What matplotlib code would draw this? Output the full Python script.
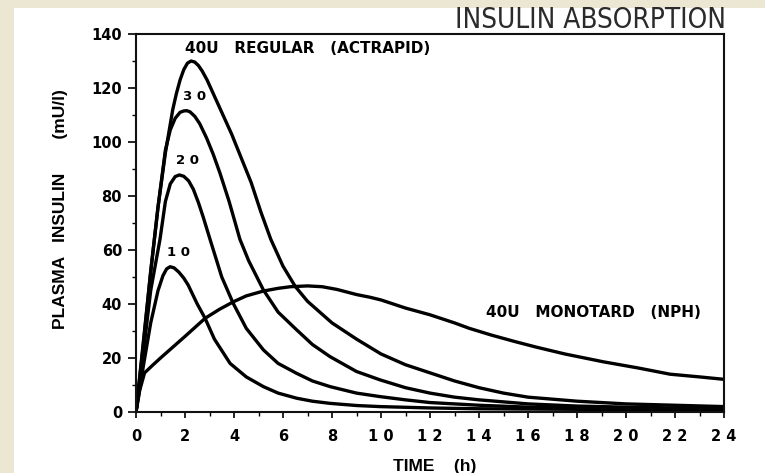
import matplotlib
matplotlib.use("Agg")
import matplotlib.pyplot as plt
from matplotlib.patches import Rectangle
from matplotlib.ticker import MultipleLocator

# 40U regular (actrapid)
t_40 = [0, 0.3, 0.6, 0.9, 1.2, 1.5, 1.65, 1.8, 1.95, 2.1, 2.25, 2.4, 2.55, 2.7, 2.9, 3.1,
        3.5, 3.9, 4.3, 4.7, 5.1, 5.5, 6.0, 6.5, 7.0, 7.5, 8.0, 9.0, 10, 11, 12, 13, 14,
        15, 16, 18, 20, 22, 24]
ins_40 = [0, 25, 52, 76, 96, 112, 118, 123, 126.8, 129.2, 130, 129.6, 128.3, 126.3, 123, 119,
          111, 103, 94, 85, 74, 64, 54, 46.5, 41, 37, 33, 27, 21.5, 17.5, 14.5, 11.5, 9,
          7, 5.5, 4, 3, 2.5, 2]

# 30U regular
t_30 = [0, 0.3, 0.6, 0.9, 1.2, 1.4, 1.6, 1.8, 1.95, 2.07, 2.2, 2.4, 2.6, 2.88, 3.15, 3.43,
        3.8, 4.24, 4.6, 5.2, 5.8, 6.56, 7.2, 7.92, 9, 9.96, 11, 12, 13, 14, 16, 18, 20, 22, 24]
ins_30 = [0, 26, 52, 76, 97, 104.5, 108.8, 111, 111.5, 111.6, 111.2, 109.5, 106.8, 101.5, 95.5, 88.4,
          78, 64, 56, 45.2, 37, 30.4, 25, 20.5, 15, 11.9, 9, 7, 5.5, 4.5, 3, 2.2, 1.8, 1.5, 1.3]

# 20U regular
t_20 = [0, 0.3, 0.6, 0.98, 1.2, 1.4, 1.6, 1.77, 1.95, 2.15, 2.34, 2.55, 2.75, 3.02, 3.5, 3.97,
        4.5, 5.2, 5.8, 6.56, 7.2, 7.92, 9, 9.96, 11, 12, 14, 16, 18, 20, 22, 24]
ins_20 = [0, 22, 45, 64, 78, 84.5, 87.2, 87.8, 87.3, 85.6, 82.5, 77.5, 72, 64, 50, 40.2,
          31, 23, 18, 14.3, 11.5, 9.4, 7, 5.7, 4.5, 3.5, 2.5, 1.8, 1.4, 1.2, 1.0, 0.9]

# 10U regular
t_10 = [0, 0.3, 0.6, 0.9, 1.1, 1.25, 1.39, 1.55, 1.75, 1.95, 2.13, 2.5, 2.82, 3.2, 3.84, 4.5,
        5.2, 5.8, 6.56, 7.2, 7.92, 9, 9.96, 12, 14, 18, 24]
ins_10 = [0, 17, 33, 45, 50.5, 53, 53.8, 53.4, 51.8, 49.6, 47, 40, 34.7, 27, 18, 13,
          9.4, 7, 5.1, 4, 3.2, 2.4, 2.0, 1.5, 1.2, 1.0, 0.8]

# 40U monotard (NPH)
t_nph = [0, 0.15, 0.35, 0.7, 1.0, 1.5, 2.0, 2.82, 3.4, 3.97, 4.5, 5.2, 5.8, 6.3, 7.0, 7.6,
         8.2, 9.0, 9.55, 10, 11, 12, 13, 13.6, 14.5, 15.5, 16.35, 17.5, 19.07, 20.5, 21.8, 23, 24]
ins_nph = [0, 8, 14.5, 17.5, 20, 24, 28, 34.7, 38, 40.8, 43, 44.8, 45.8, 46.4, 46.7, 46.4,
           45.4, 43.5, 42.5, 41.5, 38.5, 36, 33, 31, 28.5, 26, 24, 21.5, 18.6, 16.3, 14, 13, 12.1]

x_ticks = list(range(0, 25, 2))
x_ticklabels = ['0', '2', '4', '6', '8', '1 0', '1 2', '1 4', '1 6', '1 8', '2 0', '2 2', '2 4']
y_ticks = list(range(0, 141, 20))

dose_labels = ['3 0', '2 0', '1 0']
dose_label_pos = [(1.92, 116.7), (1.63, 93), (1.27, 59)]

fig = plt.figure(figsize=(7.65, 4.73), dpi=100)
fig.patch.set_facecolor('#ebe7d3')
fig.patches.append(Rectangle((14 / 765, 0), 1, 1 - 8 / 473, transform=fig.transFigure,
                             facecolor='white', edgecolor='none', zorder=-10))

ax = fig.add_axes([136 / 765, 1 - 412 / 473, 588 / 765, 378 / 473])
ax.set_facecolor('white')

for t, v in [(t_40, ins_40), (t_30, ins_30), (t_20, ins_20), (t_10, ins_10), (t_nph, ins_nph)]:
    ax.plot(t, v, color='black', lw=2.4, solid_joinstyle='round', solid_capstyle='round')

ax.set_xlim(0, 24)
ax.set_ylim(0, 140)
for s in ax.spines.values():
    s.set_linewidth(1.5)
    s.set_color('#111111')

tick_font = dict(family='DejaVu Sans', weight='bold', size=10.5)
ax.set_xticks(x_ticks)
ax.set_xticklabels(x_ticklabels, **tick_font)
ax.set_yticks(y_ticks)
ax.set_yticklabels([str(v) for v in y_ticks], **tick_font)
ax.xaxis.set_minor_locator(MultipleLocator(1))
ax.yaxis.set_minor_locator(MultipleLocator(10))
ax.tick_params(axis='y', which='major', direction='out', length=6, width=1.2, pad=4)
ax.tick_params(axis='y', which='minor', direction='out', length=3, width=1.0)
ax.tick_params(axis='x', which='major', direction='out', length=4, width=1.2, pad=8)
ax.tick_params(axis='x', which='minor', direction='out', length=3, width=1.0)

ann_font = dict(family='DejaVu Sans', weight='bold', size=11)
ax.text(2.0, 134.8, '40U   REGULAR   (ACTRAPID)', va='center', ha='left', **ann_font)
ax.text(14.3, 36.8, '40U   MONOTARD   (NPH)', va='center', ha='left', **ann_font)
for lab, (x, y) in zip(dose_labels, dose_label_pos):
    ax.text(x, y, lab, va='center', ha='left', family='DejaVu Sans', weight='bold', size=9.5)

lab_font = dict(family=['Liberation Sans', 'DejaVu Sans'], weight='bold', size=12.5)
ax.set_ylabel('PLASMA   INSULIN       (mU/l)', va='center', **lab_font)
ax.yaxis.set_label_coords(-0.128, 0.537)
ax.set_xlabel('TIME    (h)', va='center', **lab_font)
ax.xaxis.set_label_coords(0.508, -0.143)

fig.text(726 / 765, 1 - 6 / 473, 'INSULIN ABSORPTION', ha='right', va='top',
         family='DejaVu Sans', stretch='condensed', size=20, color='#2b2b2b')

fig.savefig('out.png', dpi=100, facecolor=fig.get_facecolor())
